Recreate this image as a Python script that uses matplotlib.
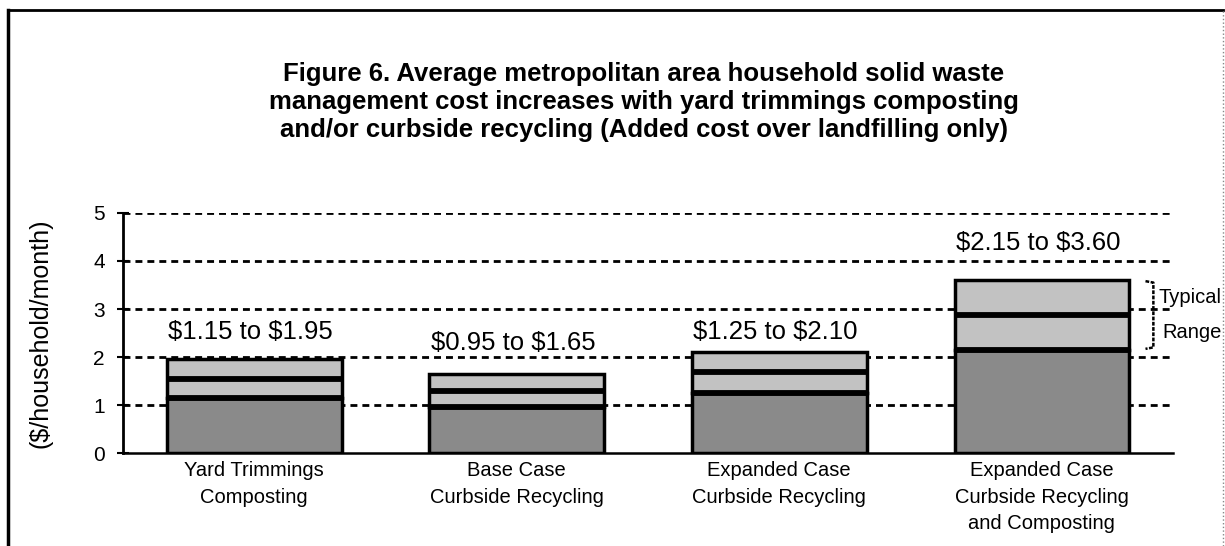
import matplotlib
matplotlib.use('Agg')
import matplotlib.pyplot as plt
from matplotlib.lines import Line2D
import numpy as np

plt.rcParams['font.family'] = ['Liberation Sans', 'DejaVu Sans']
plt.rcParams['text.parse_math'] = False

# data
categories = ['Yard Trimmings\nComposting',
              'Base Case\nCurbside Recycling',
              'Expanded Case\nCurbside Recycling',
              'Expanded Case\nCurbside Recycling\nand Composting']
low = [1.15, 0.95, 1.25, 2.15]
mid = [1.55, 1.30, 1.68, 2.88]
high = [1.95, 1.65, 2.10, 3.60]
range_labels = ['$1.15 to $1.95', '$0.95 to $1.65', '$1.25 to $2.10', '$2.15 to $3.60']
label_y = [2.52, 2.29, 2.52, 4.37]
yticks = [0, 1, 2, 3, 4, 5]

title = ('Figure 6. Average metropolitan area household solid waste\n'
         'management cost increases with yard trimmings composting\n'
         'and/or curbside recycling (Added cost over landfilling only)')

fig = plt.figure(figsize=(12.25, 5.46), dpi=100)
ax = fig.add_axes([0.1004, 0.1703, 0.8572, 0.4396])

x = np.arange(len(categories))
w = 0.665
dark = '#8a8a8a'
light = '#c2c2c2'

# dashed grid lines behind bars
for yv in yticks[1:]:
    ax.axhline(yv, color='black', lw=2.0, ls=(0, (2.5, 1.8)), zorder=1)

ax.bar(x, low, width=w, color=dark, edgecolor='black', lw=2.5, zorder=3)
ax.bar(x, np.array(high) - np.array(low), bottom=low, width=w, color=light,
       edgecolor='black', lw=2.5, zorder=3)
for i in range(len(x)):
    ax.hlines([low[i], mid[i]], x[i] - w / 2, x[i] + w / 2, color='black',
              lw=4.2, zorder=4)
    ax.text(x[i] - w / 2 + 0.005, label_y[i], range_labels[i], ha='left', va='center',
            fontsize=18.5, zorder=5)

# typical range bracket on the last bar
bx = 3.425
ax.plot([bx - 0.03, bx, bx, bx - 0.03], [high[3] - 0.02, high[3] - 0.05, low[3] + 0.05, low[3] + 0.02],
        color='black', lw=1.8, ls=(0, (1.5, 0.6)), clip_on=False, zorder=5)
ax.text(bx + 0.02, 3.25, 'Typical', ha='left', va='center', fontsize=14.5, clip_on=False)
ax.text(bx + 0.035, 2.52, 'Range', ha='left', va='center', fontsize=14.5, clip_on=False)

ax.set_xlim(-0.5, 3.5)
ax.set_ylim(0, 5)
ax.set_yticks(yticks)
ax.set_xticks(x)
ax.set_xticklabels(categories, fontsize=14.5, linespacing=1.5)
ax.tick_params(axis='y', direction='inout', length=8, width=1.5, labelsize=15, pad=9)
ax.tick_params(axis='x', length=0, pad=6)
for s in ['top', 'right']:
    ax.spines[s].set_visible(False)
ax.spines['left'].set_linewidth(2.0)
ax.spines['bottom'].set_linewidth(1.8)
ax.set_ylabel('($/household/month)', fontsize=18)
ax.yaxis.set_label_coords(-0.0676, 0.5)

fig.text(644 / 1225, 1 - 137 / 546, title, ha='center', va='baseline', fontsize=18.5,
         fontweight='bold', linespacing=1.2)

# page frame
fig.add_artist(Line2D([7.5 / 1225, 7.5 / 1225], [0, 1 - 10 / 546], color='black', lw=2.5,
                      transform=fig.transFigure))
fig.add_artist(Line2D([7.5 / 1225, 1223 / 1225], [1 - 10 / 546, 1 - 10 / 546], color='black',
                      lw=2.0, transform=fig.transFigure))
fig.add_artist(Line2D([1223 / 1225, 1223 / 1225], [0, 1 - 10 / 546], color='#888888', lw=1.0,
                      ls=':', transform=fig.transFigure))

fig.savefig('out.png', dpi=100)
